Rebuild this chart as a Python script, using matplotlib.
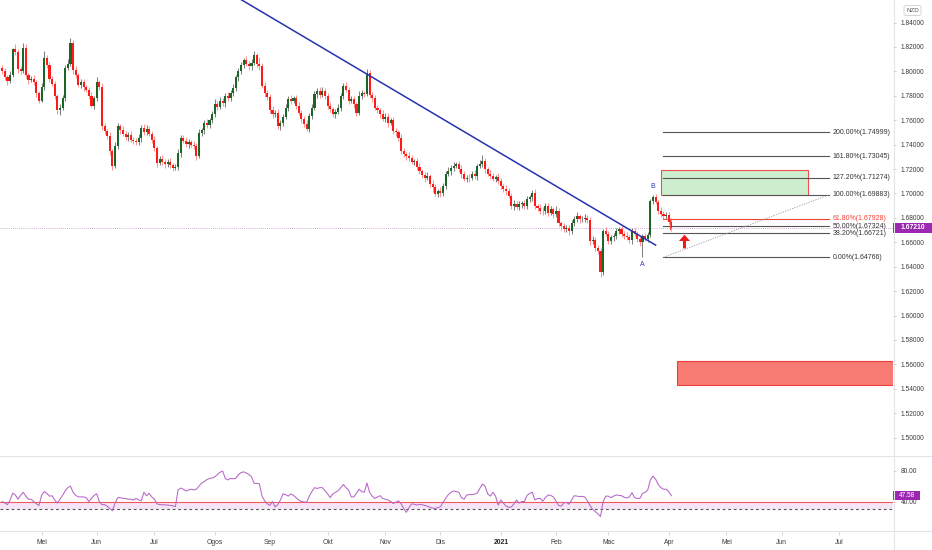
import numpy as np
import pandas as pd
import matplotlib
matplotlib.use("Agg")
import matplotlib.pyplot as plt
from matplotlib.lines import Line2D
from matplotlib.patches import Rectangle, FancyBboxPatch
import matplotlib.transforms as mtransforms

plt.rcParams['font.family'] = ['Liberation Sans', 'DejaVu Sans']

# ---------------- DATA ----------------
start_date = "2020-04-10"          # first daily bar (business days)
first_open = 1.803

closes = [
    1.800, 1.795, 1.792, 1.797, 1.818, 1.816, 1.802, 1.800,
    1.819, 1.797, 1.793, 1.794, 1.791, 1.782, 1.776,
    1.787, 1.811, 1.805, 1.794, 1.790, 1.780, 1.768, 1.770, 1.778,
    1.803, 1.806, 1.823, 1.801, 1.797, 1.789, 1.791, 1.787, 1.785, 1.780,
    1.772, 1.778, 1.791, 1.787, 1.755, 1.751, 1.747, 1.735,
    1.7225, 1.739, 1.755, 1.752, 1.749, 1.746, 1.748, 1.744, 1.743, 1.742, 1.745,
    1.754, 1.750, 1.753, 1.749, 1.744, 1.737, 1.725, 1.728,
    1.726,
    1.724, 1.726, 1.723, 1.721, 1.722, 1.733,
    1.7455, 1.743, 1.7405, 1.742, 1.740, 1.739, 1.731, 1.7496,
    1.752, 1.758, 1.756, 1.760, 1.765, 1.7735, 1.771, 1.776,
    1.774, 1.780, 1.778, 1.782, 1.786, 1.795, 1.800, 1.805, 1.809,
    1.806, 1.804, 1.807, 1.813, 1.806, 1.804, 1.788, 1.7825, 1.779,
    1.768, 1.765, 1.766, 1.755, 1.758, 1.763, 1.770, 1.7775, 1.776,
    1.778, 1.772, 1.766, 1.761, 1.757, 1.753, 1.7635, 1.770, 1.7815,
    1.784, 1.781, 1.784, 1.780, 1.772, 1.769, 1.765,
    1.767,
    1.770, 1.780, 1.788, 1.785, 1.776, 1.777, 1.773, 1.766, 1.780, 1.782,
    1.7815, 1.799,
    1.781, 1.778, 1.770, 1.768, 1.765, 1.761, 1.763, 1.758, 1.760, 1.751,
    1.750, 1.745, 1.735, 1.732, 1.7307, 1.729, 1.726, 1.7266, 1.722, 1.718,
    1.715, 1.7126, 1.714, 1.708, 1.705, 1.6995, 1.702, 1.700, 1.706, 1.716,
    1.718, 1.721, 1.7225, 1.724, 1.720, 1.716, 1.712, 1.713, 1.7126, 1.716,
    1.714, 1.7225, 1.7245, 1.7266, 1.720, 1.716, 1.714, 1.712, 1.7135, 1.710,
    1.706, 1.704, 1.702,
    1.698,
    1.6896, 1.691, 1.689, 1.691, 1.692, 1.6896, 1.6953, 1.697, 1.700, 1.6896,
    1.688, 1.686, 1.6855, 1.690, 1.684, 1.687, 1.683, 1.6855, 1.6756, 1.673,
    1.6707, 1.672, 1.669, 1.6756, 1.679, 1.6814, 1.679, 1.679, 1.680, 1.678,
    1.661, 1.662, 1.655, 1.6526, 1.636, 1.669, 1.667, 1.661, 1.664, 1.665,
    1.669, 1.6707, 1.667, 1.665, 1.664, 1.662, 1.669, 1.667, 1.6625, 1.660,
    1.665, 1.663, 1.666, 1.6937, 1.697,
    1.693, 1.686, 1.683, 1.6814, 1.6825, 1.677, 1.6721,
]

upper_wick_pips = [
    25, 30, 20, 35, 15, 40, 25, 20, 45, 30, 20, 25, 30, 15, 20, 35,
    60, 20, 30, 25, 20, 15, 30, 25, 20, 40, 40, 25, 30, 20, 25, 30,
    20, 25, 30, 15, 40, 20, 35, 25, 20, 30, 15, 35, 25, 20, 30, 25,
    20, 30, 25, 20, 35, 20, 25, 30, 20, 25, 30, 20, 25, 35, 20, 25,
    30, 20, 25, 30, 25, 20, 35, 25, 20, 30, 25, 35, 20, 25, 30, 20,
    25, 35, 20, 30, 25, 20, 30, 25, 40, 20, 25, 30, 20, 35, 25, 30,
    35, 20, 60, 25, 30, 20, 25, 35, 20, 30, 25, 20, 30, 25, 35, 20,
    25, 30, 20, 25, 35, 20, 30, 25, 20, 30, 35, 20, 25, 30, 20, 25,
    30, 20, 25, 35, 20, 30, 25, 20, 35, 25, 20, 30, 25, 20, 30, 25,
    20, 35, 25, 30, 20, 25, 30, 20, 35, 25, 20, 30, 25, 20, 25, 30,
    20, 25, 35, 20, 30, 25, 20, 30, 25, 20, 35, 25, 30, 20, 25, 30,
    25, 20, 30, 25, 35, 20, 30, 45, 25, 20, 30, 25, 20, 35, 25, 20,
    30, 25, 20, 35, 25, 30, 20, 25, 30, 20, 25, 35, 20, 30, 25, 20,
    25, 30, 20, 45, 25, 20, 30, 25, 20, 30, 25, 35, 20, 25, 30, 20,
    25, 30, 20, 25, 30, 20, 35, 25, 20, 30, 25, 20, 30, 25, 35, 20,
    25, 30, 20, 25, 20, 30, 25, 20, 18, 25, 20, 30, 25, 22, 20, 25,
]

lower_wick_pips = [
    20, 25, 30, 15, 20, 25, 30, 20, 15, 25, 30, 20, 25, 30, 20, 15,
    20, 25, 30, 20, 25, 30, 35, 20, 25, 20, 15, 30, 25, 20, 25, 30,
    20, 25, 15, 30, 20, 25, 30, 20, 25, 35, 30, 20, 25, 30, 20, 25,
    30, 20, 25, 20, 25, 30, 20, 25, 20, 30, 25, 35, 20, 25, 30, 20,
    25, 30, 20, 25, 30, 20, 25, 30, 20, 25, 35, 20, 25, 30, 20, 25,
    20, 25, 30, 20, 25, 30, 20, 25, 20, 25, 30, 20, 25, 20, 30, 25,
    20, 25, 30, 20, 35, 25, 20, 30, 25, 20, 30, 25, 20, 25, 30, 20,
    25, 20, 30, 25, 20, 30, 25, 20, 30, 25, 20, 25, 30, 20, 25, 30,
    20, 25, 30, 20, 25, 20, 30, 25, 20, 30, 25, 20, 25, 30, 20, 25,
    30, 20, 25, 35, 20, 25, 30, 20, 25, 20, 30, 25, 20, 30, 25, 20,
    25, 30, 20, 25, 35, 20, 25, 30, 20, 25, 20, 30, 25, 20, 25, 30,
    20, 25, 30, 20, 25, 30, 20, 25, 30, 20, 25, 20, 30, 25, 20, 25,
    30, 20, 25, 30, 20, 25, 30, 20, 25, 20, 30, 25, 20, 25, 30, 20,
    25, 20, 30, 25, 20, 30, 25, 20, 30, 25, 20, 25, 30, 20, 25, 20,
    30, 25, 20, 25, 45, 30, 20, 25, 20, 30, 25, 20, 30, 25, 20, 25,
    30, 20, 25, 30, 123, 20, 25, 15, 25, 20, 30, 20, 25, 20, 20, 25,
]

rsi_values = [
    40, 38, 36, 42, 51, 48.5, 43, 48, 52, 47, 43, 43, 40, 37, 35,
    48, 53, 50.5, 47, 47.5, 42, 38, 43, 48, 54, 58, 60, 52, 48, 46,
    46, 46, 45, 40, 44, 48, 50, 40, 36, 36, 34, 31, 28, 38, 45,
    45, 44, 44, 43, 43, 42, 44, 42, 41, 52, 47.6, 50.6, 46, 43, 37, 36,
    35.8,
    35.5, 35.5, 35, 34.5, 33.3, 55, 57.5, 56, 53.7, 55, 56, 55, 56, 60, 64,
    66, 68.5, 70, 70.5, 72, 75, 78, 79.5, 70, 68, 70, 69.5, 70, 75, 77.5,
    78.5, 77, 75, 72, 63.6, 63.6, 63, 47, 41, 37, 35, 40, 33, 36, 42,
    50, 49, 47, 50, 48, 45, 42, 40, 39.5, 39, 47, 53, 58, 57, 58,
    58, 54, 50, 45, 50,
    52,
    54, 58, 62, 58, 55, 46, 46, 51, 56, 53, 52, 64, 52, 47, 44,
    46, 47.6, 44, 43, 42, 40, 37.5, 39, 41, 37, 31, 26, 32, 37, 36.5,
    35.5, 36.4, 35.8, 35, 34, 32.5, 31.5, 31.2, 32, 33.3, 39, 44, 49, 52, 53.7, 53, 52,
    45, 43, 48.5, 49, 49, 49.5, 51, 57, 62.5, 60,
    50, 47, 52, 47, 35.5, 42, 38, 34, 32.5, 33,
    37, 42, 38, 40, 40, 48, 50.5, 52, 42, 44,
    44, 40.5, 45, 48.5, 48, 46, 41, 35, 34, 38,
    39, 36.5, 42, 47.6, 47, 46.5, 46.7, 46, 41, 35,
    30, 27, 24, 20.5, 40, 47, 47, 45, 47, 48.5,
    48, 47.6, 45.5, 44.5, 46, 51.5, 45, 44, 44, 50.6,
    52, 55, 68, 73, 69, 62, 58, 56, 56, 53, 47.58,
]

price_ticks = [1.50, 1.52, 1.54, 1.56, 1.58, 1.60, 1.62, 1.64, 1.66,
               1.68, 1.70, 1.72, 1.74, 1.76, 1.78, 1.80, 1.82, 1.84]
rsi_ticks = [40, 80]

month_starts = ["2020-05-01", "2020-06-01", "2020-07-01", "2020-08-03",
                "2020-09-01", "2020-10-01", "2020-11-02", "2020-12-01",
                "2021-01-01", "2021-02-01", "2021-03-01", "2021-04-01",
                "2021-05-03", "2021-06-01", "2021-07-01"]
month_labels = ["Mei", "Jun", "Jul", "Ogos", "Sep", "Okt", "Nov", "Dis",
                "2021", "Feb", "Mac", "Apr", "Mei", "Jun", "Jul"]

fib_pcts = ["0.00%", "38.20%", "50.00%", "61.80%", "100.00%",
            "127.20%", "161.80%", "200.00%"]
fib_prices = [1.64766, 1.66721, 1.67324, 1.67928, 1.69883,
              1.71274, 1.73045, 1.74999]
fib_start, fib_end = "2021-03-30", "2021-06-25"

current_price = 1.67210
current_rsi = 47.58
rsi_red_level, rsi_dash_level = 40, 30

trend_dates = ["2020-08-17", "2021-03-25"]
trend_prices = [1.8588, 1.6577]

green_zone = ("2021-03-29", "2021-06-15", 1.6988, 1.7192)
red_zone = ("2021-04-06", "2021-09-30", 1.5432, 1.5628)
red_frame = ("2021-04-01", "2021-06-25", 1.6711, 1.67928)
arrow_date, arrow_low, arrow_high = "2021-04-09", 1.6550, 1.6662
label_A = ("2021-03-18", "A")
label_B = ("2021-03-24", "B")

# ---------------- PREP ----------------
n = len(closes)
assert len(upper_wick_pips) == n and len(lower_wick_pips) == n and len(rsi_values) == n, \
    (n, len(upper_wick_pips), len(lower_wick_pips), len(rsi_values))

all_days = pd.bdate_range(start_date, "2021-12-31")
def bar(d):
    return int(all_days.searchsorted(pd.Timestamp(d)))

xs = np.arange(n)
c = np.array(closes)
o = np.array([first_open] + closes[:-1])
hi = np.maximum(o, c) + np.array(upper_wick_pips) / 1e4
lo = np.minimum(o, c) - np.array(lower_wick_pips) / 1e4
up = c >= o

# pixel layout: bar j at px 2.24 + 2.624 j ; plot area 0..893 px
XL = (-2.24 / 2.624, (893 - 2.24) / 2.624)
YL = (1.84 - (455 - 22.5) / 1221, 1.84 + 22.5 / 1221)
RL = (80 - (531 - 470.7) / 0.771, 80 + (470.7 - 456.5) / 0.771)

W, H = 932, 550
fig = plt.figure(figsize=(W / 100, H / 100), dpi=100)
fig.patch.set_facecolor('white')
ax = fig.add_axes([0, 1 - 455 / H, 893 / W, 455 / H])
axr = fig.add_axes([0, 1 - 531 / H, 893 / W, (531 - 456.5) / H])

txtc = '#3c3c3c'
fs_axis = 4.8

# ---------------- MAIN PANE ----------------
ax.vlines(xs[up], lo[up], hi[up], color='#808080', lw=0.75, zorder=2)
ax.vlines(xs[~up], lo[~up], hi[~up], color='#ff9494', lw=0.75, zorder=2)
body = np.maximum(np.abs(c - o), 0.0003)
ax.bar(xs[up], body[up], bottom=o[up], width=0.8, color='#1a6628', lw=0, zorder=3)
ax.bar(xs[~up], body[~up], bottom=c[~up], width=0.8, color='#ff1a1a', lw=0, zorder=3)

ax.axhline(current_price, color='#c98bd0', lw=0.6, ls=(0, (1, 1.5)), zorder=1)

# trendline
ax.plot([bar(d) for d in trend_dates], trend_prices, color='#2633b0', lw=1.1, zorder=4)

# zones
gz0, gz1 = bar(green_zone[0]), bar(green_zone[1])
ax.add_patch(Rectangle((gz0, green_zone[2]), gz1 - gz0, green_zone[3] - green_zone[2],
                       fc='#cdeecf', ec='#f05050', lw=0.8, zorder=2))
rz0, rz1 = bar(red_zone[0]), bar(red_zone[1])
ax.add_patch(Rectangle((rz0, red_zone[2]), rz1 - rz0, red_zone[3] - red_zone[2],
                       fc='#f77b72', ec='#f03c3c', lw=0.8, zorder=2))

# fib
f0, f1 = bar(fib_start), bar(fib_end)
for pct, pr in zip(fib_pcts, fib_prices):
    col = '#f44336' if pct == "61.80%" else '#555555'
    tcol = '#f44336' if pct == "61.80%" else '#333333'
    ax.plot([f0, f1], [pr, pr], color=col, lw=0.8, zorder=3)
    ax.annotate(f"{pct}({pr:.5f})", xy=(f1, pr), xytext=(3, 0), textcoords='offset points',
                ha='left', va='center', fontsize=5.0, color=tcol, zorder=5)
ax.plot([f0, f1], [fib_prices[0], fib_prices[4]], color='#9a9a9a', lw=0.6,
        ls=(0, (1.5, 1.5)), zorder=3)
rf0 = bar(red_frame[0]) + 0.5
ax.plot([rf0, rf0], [red_frame[2], red_frame[3]], color='#f44336', lw=0.8, zorder=3)

# arrow
ax.annotate('', xy=(bar(arrow_date), arrow_high), xytext=(bar(arrow_date), arrow_low),
            arrowprops=dict(width=2.2, headwidth=8, headlength=4.5, color='#f01a1a', lw=0),
            zorder=6)

# A / B labels
ja = bar(label_A[0])
ax.annotate(label_A[1], xy=(ja, lo[ja]), xytext=(0, -3), textcoords='offset points',
            ha='center', va='top', fontsize=5.0, color='#2d3ab4')
jb = bar(label_B[0])
ax.annotate(label_B[1], xy=(jb, hi[min(jb + 1, n - 1)]), xytext=(0, 3), textcoords='offset points',
            ha='center', va='bottom', fontsize=5.0, color='#2d3ab4')

ax.set_xlim(*XL)
ax.set_ylim(*YL)
ax.set_xticks([])
ax.yaxis.tick_right()
ax.set_yticks(price_ticks)
ax.set_yticklabels([f"{t:.5f}" for t in price_ticks])
ax.tick_params(axis='y', length=2.5, width=0.5, color='#b0b0b0', pad=3,
               labelsize=fs_axis, labelcolor=txtc)
for s in ax.spines.values():
    s.set_visible(False)

# current price label
blend = mtransforms.blended_transform_factory(ax.transAxes, ax.transData)
hh = 5 / 1221
ax.add_patch(Rectangle((1.0, current_price - hh), 932 / 893 - 1.0, 2 * hh, transform=blend,
                       fc='#9c27b0', ec='none', clip_on=False, zorder=10))
ax.text(1.0 + 20 / 893, current_price, f"{current_price:.5f}", transform=blend,
        ha='center', va='center', fontsize=4.9, color='white', fontweight='bold',
        clip_on=False, zorder=11)

# NZD box
fig.patches.append(FancyBboxPatch((904 / W, 1 - 15.5 / H), 17 / W, 10 / H,
                                  boxstyle='round,pad=0,rounding_size=0.003',
                                  transform=fig.transFigure, fc='white', ec='#cfcfcf', lw=0.6))
fig.text(912.5 / W, 1 - 10.5 / H, "NZD", ha='center', va='center', fontsize=4.4, color='#555555')

# ---------------- RSI PANE ----------------
axr.axhspan(rsi_dash_level, rsi_red_level, color='#f5e6f7', lw=0, zorder=1)
axr.axhline(rsi_red_level, color='#f25a5a', lw=0.8, zorder=2)
axr.axhline(rsi_dash_level, color='#555555', lw=0.8, ls=(0, (2.5, 2.5)), zorder=2)
axr.plot(xs, rsi_values, color='#b765c9', lw=0.75, zorder=3)
axr.set_xlim(*XL)
axr.set_ylim(*RL)
axr.yaxis.tick_right()
axr.set_yticks(rsi_ticks)
axr.set_yticklabels([f"{t:.2f}" for t in rsi_ticks])
axr.tick_params(axis='y', length=2.5, width=0.5, color='#b0b0b0', pad=3,
                labelsize=fs_axis, labelcolor=txtc)
axr.set_xticks([bar(d) for d in month_starts])
axr.set_xticklabels(month_labels)
axr.tick_params(axis='x', length=3, width=0.5, color='#c8c8c8', pad=2.5,
                labelsize=4.9, labelcolor=txtc)
for lab in axr.get_xticklabels():
    if lab.get_text() == "2021":
        lab.set_fontweight('bold')
        lab.set_color('#222222')
for s in axr.spines.values():
    s.set_visible(False)

blend_r = mtransforms.blended_transform_factory(axr.transAxes, axr.transData)
rh = 4.5 / 0.771
axr.add_patch(Rectangle((1.0, current_rsi - rh), 27 / 893, 2 * rh, transform=blend_r,
                        fc='#9c27b0', ec='none', clip_on=False, zorder=10))
axr.text(1.0 + 14 / 893, current_rsi, f"{current_rsi:.2f}", transform=blend_r,
         ha='center', va='center', fontsize=4.7, color='white', clip_on=False, zorder=11)

# separators
lc = '#e2e4ea'
fig.add_artist(Line2D([0, 1], [1 - 456 / H, 1 - 456 / H], transform=fig.transFigure, color=lc, lw=0.8))
fig.add_artist(Line2D([0, 1], [1 - 531 / H, 1 - 531 / H], transform=fig.transFigure, color=lc, lw=0.8))
fig.add_artist(Line2D([893.5 / W, 893.5 / W], [0, 1], transform=fig.transFigure, color=lc, lw=0.8))

fig.savefig("out.png", dpi=100, facecolor='white')
